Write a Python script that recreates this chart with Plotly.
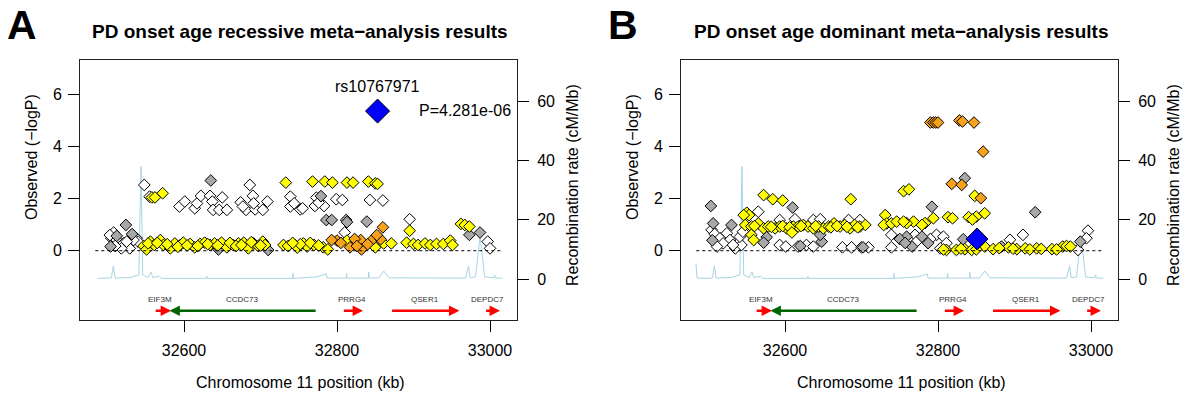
import plotly.graph_objects as go

# ---------------- data ----------------
# Panel A (recessive) : (position kb, -log10 P) per LD colour group
A_white_x = [32508, 32505, 32512, 32521, 32529, 32518, 32510, 32538, 32540, 32534, 32525, 32503,
             32548, 32555, 32686, 32594, 32601, 32614, 32617, 32622, 32634, 32637, 32650, 32638,
             32646, 32656, 32674, 32681, 32690, 32693, 32703, 32709, 32677, 32691, 32739, 32739,
             32752, 32744, 32773, 32771, 32783, 32755, 32799, 32807, 32843, 32860, 32895, 32810,
             32997, 33000, 32776]
A_white_y = [0.70, 0.48, 0.41, 0.29, 0.09, 0.09, 0.18, 0.48, 0.35, 0.41, 0.35, 0.60,
             2.53, 2.08, 2.53, 1.70, 1.89, 1.63, 1.82, 2.11, 2.11, 1.89, 2.05, 1.57,
             1.57, 1.57, 1.86, 1.57, 2.11, 1.59, 1.57, 1.89, 1.70, 1.82, 2.08, 1.70,
             1.59, 1.82, 2.04, 1.72, 1.72, 1.63, 1.98, 1.95, 1.95, 1.93, 1.21, 0.70,
             0.35, 0.09, 1.85]
A_gray_x = [32635, 32524, 32532, 32504, 32512, 32710, 32645, 32779, 32786, 32793, 32812, 32839,
            32973, 32987, 32813]
A_gray_y = [2.70, 0.99, 0.64, 0.16, 0.57, 0.03, 0.05, 2.10, 1.18, 1.18, 1.18, 1.12,
            0.61, 0.70, 1.10]
A_yellow_x = [32558, 32562, 32572, 32733, 32768, 32784, 32794, 32813, 32821, 32841, 32850, 32853,
              32895, 32962, 32967, 32973,
              32547, 32551, 32556, 32561, 32569, 32573, 32582, 32588, 32595, 32599, 32608, 32614,
              32621, 32627, 32634, 32640, 32649, 32656, 32664, 32671, 32678, 32684, 32691, 32697,
              32703, 32706, 32730, 32736, 32745, 32756, 32761, 32770, 32782, 32813, 32826, 32850,
              32861, 32871, 32891, 32900, 32906, 32915, 32922, 32930, 32939, 32948, 32951,
              32553, 32565, 32578, 32592, 32604, 32618, 32631, 32644, 32660, 32668, 32675, 32688,
              32700, 32748, 32752, 32765, 32776, 32788, 32742]
A_yellow_y = [2.05, 2.05, 2.21, 2.62, 2.66, 2.66, 2.62, 2.62, 2.62, 2.66, 2.59, 2.57,
              0.77, 1.03, 0.99, 0.93,
              0.18, 0.05, 0.35, 0.22, 0.41, 0.22, 0.09, 0.28, 0.22, 0.31, 0.26, 0.13,
              0.26, 0.31, 0.22, 0.28, 0.31, 0.13, 0.22, 0.28, 0.31, 0.09, 0.28, 0.18,
              0.35, 0.22, 0.22, 0.18, 0.22, 0.28, 0.16, 0.22, 0.13, 0.39, 0.31, 0.13,
              0.28, 0.28, 0.31, 0.26, 0.22, 0.28, 0.22, 0.26, 0.26, 0.39, 0.22,
              0.28, 0.30, 0.25, 0.15, 0.20, 0.18, 0.25, 0.20, 0.30, 0.18, 0.22, 0.33,
              0.20, 0.12, 0.25, 0.30, 0.20, 0.05, 0.30]
A_orange_x = [32860, 32800, 32793, 32817, 32831, 32832, 32847, 32857, 32805, 32823, 32840, 32826, 32852]
A_orange_y = [0.90, 0.39, 0.41, 0.13, 0.41, 0.05, 0.44, 0.44, 0.30, 0.45, 0.25, 0.18, 0.60]
A_lead_x = [32853]
A_lead_y = [5.37]
A_lead_name = "rs10767971"
A_lead_p = "P=4.281e-06"

# Panel B (dominant)
B_white_x = [32504, 32508, 32515, 32524, 32528, 32519, 32511, 32535, 32543, 32541, 32545, 32532,
             32565, 32593, 32613, 32637, 32646, 32683, 32698,
             32593, 32601, 32617, 32628, 32637, 32675, 32687, 32700, 32709, 32739, 32739,
             32770, 32772, 32798, 32807, 32811, 32803, 32894, 32911, 32996, 32994, 32983, 32790]
B_white_y = [0.80, 0.64, 0.48, 0.67, 0.41, 0.28, 0.16, 0.09, 0.22, 0.54, 0.73, 0.22,
             1.50, 1.18, 1.21, 1.18, 1.21, 1.18, 1.18,
             0.22, 0.16, 0.16, 0.22, 0.16, 0.13, 0.13, 0.13, 0.13, 0.13, 0.61,
             0.61, 0.35, 0.61, 0.54, 0.29, 0.09, 0.42, 0.61, 0.77, 0.48, 0.03, 0.45]
B_gray_x = [32503, 32610, 32792, 32927, 32835, 32576, 32572, 32506, 32530, 32648, 32646, 32620,
            32702, 32759, 32779, 32787, 32766, 32986, 32883, 32833, 32505, 32750, 32757]
B_gray_y = [1.72, 1.66, 1.69, 1.48, 2.79, 0.52, 0.31, 1.05, 0.99, 0.35, 0.61, 0.18,
            0.13, 0.54, 0.54, 0.29, 0.16, 0.35, 0.16, 0.44, 0.40, 0.45, 0.30]
B_yellow_x = [32755, 32762, 32572, 32584, 32597, 32686, 32848, 32550, 32553, 32546, 32731, 32733,
              32548, 32556, 32565, 32572, 32578, 32587, 32593, 32602, 32611, 32617, 32624, 32630,
              32637, 32644, 32650, 32657, 32664, 32672, 32678, 32685, 32691, 32698, 32705, 32729,
              32739, 32746, 32560, 32582, 32597, 32606, 32621, 32640, 32660, 32668, 32681, 32695,
              32556, 32559, 32609,
              32794, 32813, 32819, 32840, 32850, 32861, 32783, 32779, 32768, 32759, 32755, 32845,
              32811, 32824, 32835, 32844, 32861, 32872, 32892, 32903, 32914, 32929, 32949, 32963,
              32968, 32973, 32807, 32830, 32850, 32880, 32898, 32920, 32935, 32955]
B_yellow_y = [2.29, 2.36, 2.14, 1.98, 1.93, 1.98, 2.11, 1.46, 1.37, 1.37, 1.37, 1.05,
              0.99, 0.93, 1.05, 0.86, 0.93, 0.86, 0.93, 0.86, 0.93, 0.93, 0.99, 0.93,
              0.86, 0.93, 0.86, 0.93, 1.05, 0.93, 0.99, 0.86, 0.99, 0.93, 0.99, 0.99,
              1.05, 1.12, 0.95, 0.92, 0.95, 0.90, 0.95, 0.95, 0.90, 0.95, 0.92, 0.90,
              0.61, 0.41, 0.70,
              1.25, 1.29, 1.25, 1.29, 1.31, 1.44, 1.06, 0.99, 1.12, 1.06, 1.12, 1.20,
              0.03, 0.03, 0.06, 0.03, 0.16, 0.06, 0.13, 0.06, 0.09, 0.09, 0.06, 0.16,
              0.18, 0.16, 0.05, 0.08, 0.05, 0.10, 0.08, 0.05, 0.07, 0.05]
B_orange_x = [32790, 32794, 32797, 32800, 32828, 32832, 32847, 32859, 32818, 32831, 32856]
B_orange_y = [4.93, 4.93, 4.93, 4.93, 5.01, 4.97, 4.93, 3.81, 2.57, 2.53, 2.02]
B_lead_x = [32851]
B_lead_y = [0.45]

# Recombination rate (cM/Mb)
recA_x = [32487, 32500, 32505, 32507.6, 32510, 32530, 32537, 32541, 32543.7, 32546, 32553, 32556.8,
          32559, 32568, 32571, 32629, 32630, 32631, 32742, 32742.5, 32743, 32760, 32773, 32786,
          32787, 32812, 32812.6, 32813, 32841, 32841.5, 32842, 32855, 32861, 32868, 32900, 32968,
          32972, 32974, 32981, 32987, 32993, 33005, 33006, 33007, 33016]
recA_y = [0.3, 0.3, 0.5, 4.5, 0.4, 0.6, 1.2, 1.5, 38, 1.5, 0.6, 2.5,
          0.6, 1.0, 0.3, 0.3, 1.0, 0.3, 0.3, 2.0, 0.3, 0.5, 0.8, 1.8,
          0.4, 0.4, 2.0, 0.4, 0.4, 2.5, 0.4, 0.5, 2.8, 0.5, 0.4, 0.4,
          4.5, 0.5, 0.8, 14.6, 0.8, 0.5, 1.5, 0.5, 0.3]
recB_x = [32483.6, 32485] + recA_x[1:]
recB_y = [5.4, 0.4] + recA_y[1:]

# Genes
gene_names = ["EIF3M", "CCDC73", "PRRG4", "QSER1", "DEPDC7"]
gene_start = [32561, 32581, 32807, 32870, 32993]
gene_end = [32583, 32774, 32834, 32960, 33013]
gene_strand = ["+", "-", "+", "+", "+"]
gene_label_pos = [32569, 32677, 32820, 32915, 32997]
gene_color = ["#ff0000", "#006400", "#ff0000", "#ff0000", "#ff0000"]

xticks = [32600, 32800, 33000]
yticks_left = [0, 2, 4, 6]
yticks_right = [0, 20, 40, 60]
region = [32484, 33017]

titles = ["PD onset age recessive meta\u2212analysis results",
          "PD onset age dominant meta\u2212analysis results"]
letters = ["A", "B"]

# ---------------- figure ----------------
FONT = "Arial, Liberation Sans, sans-serif"
W, H = 1200, 400


def px_x(s):
    return s / W


def px_y(s):
    return 1 - s / H


fig = go.Figure()

panels = [
    dict(x0=80, x1=517, xa="x", yrec="y", ylog="y2",
         white=(A_white_x, A_white_y), gray=(A_gray_x, A_gray_y), yellow=(A_yellow_x, A_yellow_y),
         orange=(A_orange_x, A_orange_y), lead=(A_lead_x, A_lead_y), lead_size=18.5,
         rec=(recA_x, recA_y)),
    dict(x0=681, x1=1118, xa="x2", yrec="y3", ylog="y4",
         white=(B_white_x, B_white_y), gray=(B_gray_x, B_gray_y), yellow=(B_yellow_x, B_yellow_y),
         orange=(B_orange_x, B_orange_y), lead=(B_lead_x, B_lead_y), lead_size=17,
         rec=(recB_x, recB_y)),
]

top_px, bot_px = 60, 320
xrange_ = [32464.0, 33035.3]
ylog_range = [-2.665, 7.335]
yrec_range = [-13.7, 73.8]
tickfont = dict(family=FONT, size=16, color="#000")


def ann(**kw):
    base = dict(showarrow=False, xanchor="center", yanchor="middle")
    base.update(kw)
    fig.add_annotation(**base)


layout_axes = {}
for i, p in enumerate(panels):
    xa_name = "xaxis" if i == 0 else "xaxis2"
    yrec_name = "yaxis" if i == 0 else "yaxis3"
    ylog_name = "yaxis2" if i == 0 else "yaxis4"
    dom = [px_x(p["x0"]), px_x(p["x1"])]
    ydom = [px_y(bot_px), px_y(top_px)]
    common = dict(ticks="outside", ticklen=11, tickwidth=1, tickcolor="#000", showline=True,
                  linecolor="#222", linewidth=1, showgrid=False, zeroline=False,
                  tickfont=tickfont, automargin=False)
    layout_axes[xa_name] = dict(domain=dom, range=xrange_, anchor=p["yrec"], tickvals=xticks,
                                ticktext=[str(v) for v in xticks], mirror=True,
                                ticklabelstandoff=5, **common)
    layout_axes[yrec_name] = dict(domain=ydom, range=yrec_range, anchor=p["xa"], side="right",
                                  tickvals=yticks_right, ticktext=[str(v) for v in yticks_right],
                                  ticklabelstandoff=5, **common)
    layout_axes[ylog_name] = dict(range=ylog_range, overlaying=p["yrec"], anchor=p["xa"], side="left",
                                  tickvals=yticks_left, ticktext=[str(v) for v in yticks_left],
                                  ticklabelstandoff=3, **common)

    # recombination line
    fig.add_trace(go.Scatter(x=p["rec"][0], y=p["rec"][1], mode="lines", xaxis=p["xa"], yaxis=p["yrec"],
                             line=dict(color="#a9d4e4", width=1), hoverinfo="skip", showlegend=False))
    # points
    for key, fill in [("white", "#ffffff"), ("gray", "#a8a8a8"), ("yellow", "#ffff00"), ("orange", "#f7a21b")]:
        xs, ys = p[key]
        fig.add_trace(go.Scatter(x=xs, y=ys, mode="markers", xaxis=p["xa"], yaxis=p["ylog"],
                                 marker=dict(symbol="diamond", size=9, color=fill,
                                             line=dict(color="#000", width=1)),
                                 showlegend=False))
    fig.add_trace(go.Scatter(x=p["lead"][0], y=p["lead"][1], mode="markers", xaxis=p["xa"], yaxis=p["ylog"],
                             marker=dict(symbol="diamond", size=p["lead_size"], color="#0000ff",
                                         line=dict(color="#000", width=1)),
                             showlegend=False))
    # dotted zero line
    fig.add_trace(go.Scatter(x=region, y=[0, 0], mode="lines", xaxis=p["xa"], yaxis=p["ylog"],
                             line=dict(color="#000", width=1, dash="dot"), hoverinfo="skip",
                             showlegend=False))
    # genes
    for g in range(len(gene_names)):
        tail, tip = (gene_start[g], gene_end[g]) if gene_strand[g] == "+" else (gene_end[g], gene_start[g])
        fig.add_annotation(x=tip, y=-2.31, ax=tail, ay=-2.31, xref=p["xa"], yref=p["ylog"],
                           axref=p["xa"], ayref=p["ylog"], text="", showarrow=True,
                           arrowhead=2, arrowsize=0.8, arrowwidth=2.6, arrowcolor=gene_color[g],
                           standoff=0, startstandoff=0)
        ann(x=gene_label_pos[g], y=-1.86, xref=p["xa"], yref=p["ylog"], text=gene_names[g],
            font=dict(family=FONT, size=8, color="#333"))

    off = p["x0"] - 80
    # axis titles
    ann(x=px_x(31 + off), y=px_y(157), xref="paper", yref="paper",
        text="Observed (\u2212logP)", textangle=-90, font=dict(family=FONT, size=16, color="#000"))
    ann(x=px_x(572 + off), y=px_y(185), xref="paper", yref="paper",
        text="Recombination rate (cM/Mb)", textangle=-90, font=dict(family=FONT, size=16, color="#000"))
    ann(x=px_x(300 + off), y=px_y(382), xref="paper", yref="paper",
        text="Chromosome 11 position (kb)", font=dict(family=FONT, size=16, color="#000"))
    # panel title and letter
    ann(x=px_x(300 + off), y=px_y(32), xref="paper", yref="paper",
        text="<b>" + titles[i] + "</b>", font=dict(family=FONT, size=19, color="#000"))
    ann(x=px_x(22 + off), y=px_y(25), xref="paper", yref="paper",
        text="<b>" + letters[i] + "</b>", font=dict(family=FONT, size=41, color="#000"))

# lead SNP labels in panel A
ann(x=A_lead_x[0], y=6.33, xref="x", yref="y2", text=A_lead_name,
    font=dict(family=FONT, size=16, color="#000"))
ann(x=32904, y=5.41, xref="x", yref="y2", text=A_lead_p, xanchor="left",
    font=dict(family=FONT, size=16, color="#000"))

fig.update_layout(template="none", width=W, height=H, margin=dict(l=0, r=0, t=0, b=0),
                  paper_bgcolor="#fff", plot_bgcolor="#fff", showlegend=False, **layout_axes)

# remove the browser's default 8px body margin so the figure fills the window exactly
fig.write_html("out.html", config={"displayModeBar": False},
               post_script="document.body.style.margin='0';")
